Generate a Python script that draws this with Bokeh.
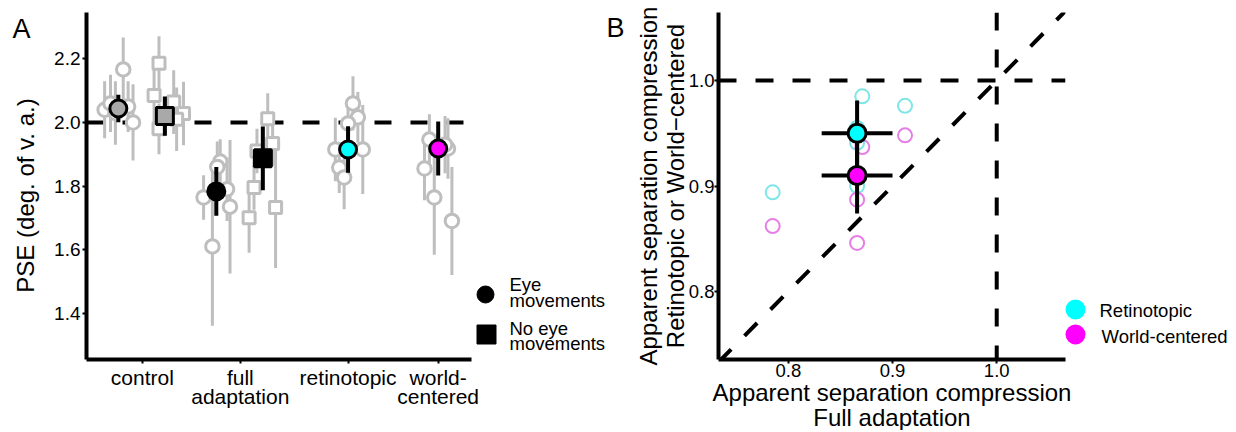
import math
from bokeh.plotting import figure
from bokeh.layouts import row
from bokeh.models import Range1d, FixedTicker, PrintfTickFormatter, Span
from bokeh.embed import file_html
from bokeh.resources import INLINE
from bokeh.core.properties import value

FONT = "Liberation Sans"

# ---------------- Panel A data ----------------
categories = ["control", "full\nadaptation", "retinotopic", "world-\ncentered"]
category_x = [1.0, 2.0, 3.1, 4.02]
pse_ticks = [1.4, 1.6, 1.8, 2.0, 2.2]
reference_pse = 2.0
ylabel_a = "PSE (deg. of v. a.)"

# group means (control, full adaptation)
eye_mean = [2.044, 1.783]
eye_se = [0.043, 0.077]
noeye_mean = [2.020, 1.887]
noeye_se = [0.062, 0.100]
ret_mean = 1.915
ret_se = 0.073
world_mean = 1.918
world_se = 0.085

# individual observers: PSE, SE, horizontal jitter (category units)
ctrl_eye_pse = [2.167, 2.040, 2.000, 2.060, 2.050, 2.030]
ctrl_eye_se = [0.10, 0.09, 0.12, 0.09, 0.08, 0.10]
ctrl_eye_jit = [0.05, -0.14, 0.15, -0.08, 0.10, -0.03]

ctrl_noeye_pse = [2.186, 2.085, 2.064, 2.028, 1.980, 2.010]
ctrl_noeye_se = [0.085, 0.10, 0.10, 0.10, 0.08, 0.10]
ctrl_noeye_jit = [-0.06, -0.11, 0.09, 0.19, -0.06, 0.12]

full_eye_pse = [1.610, 1.735, 1.764, 1.877, 1.860, 1.790]
full_eye_se = [0.25, 0.21, 0.07, 0.07, 0.08, 0.10]
full_eye_jit = [-0.04, 0.14, -0.13, 0.04, 0.01, 0.11]

full_noeye_pse = [2.012, 1.934, 1.910, 1.795, 1.700, 1.732]
full_noeye_se = [0.08, 0.07, 0.07, 0.07, 0.11, 0.19]
full_noeye_jit = [0.05, 0.10, -0.06, -0.09, -0.14, 0.13]

ret_pse = [2.060, 2.016, 1.997, 1.915, 1.915, 1.858, 1.827]
ret_ind_se = [0.085, 0.08, 0.07, 0.10, 0.14, 0.08, 0.10]
ret_jit = [0.05, 0.10, 0.0, -0.13, 0.15, -0.09, -0.04]

world_pse = [1.946, 1.855, 1.764, 1.690, 1.918, 1.930]
world_ind_se = [0.08, 0.10, 0.18, 0.17, 0.095, 0.09]
world_jit = [-0.09, -0.14, -0.04, 0.14, 0.10, 0.07]

legend_a_lines = [["Eye", "movements"], ["No eye", "movements"]]

# ---------------- Panel B data ----------------
comp_ticks = [0.8, 0.9, 1.0]
full_comp = [0.785, 0.912, 0.871, 0.866, 0.866, 0.866]
ret_comp = [0.894, 0.976, 0.985, 0.955, 0.941, 0.900]
world_comp = [0.862, 0.948, 0.937, 0.910, 0.887, 0.846]
mean_full_comp, mean_full_comp_se = 0.866, 0.034
mean_ret_comp, mean_ret_comp_se = 0.950, 0.031
mean_world_comp, mean_world_comp_se = 0.910, 0.036
legend_b_labels = ["Retinotopic", "World-centered"]
xlabel_b = ["Apparent separation compression", "Full adaptation"]
ylabel_b = ["Apparent separation compression", "Retinotopic or World\u2212centered"]

# ---------------- styles ----------------
GRAY = "#BEBEBE"
CTRL_FILL = "#A9A9A9"
CYAN = "#00FFFF"
MAGENTA = "#FF00FF"
LIGHT_CYAN = "#7EE6E6"
LIGHT_MAGENTA = "#E67EE6"
EYE_DX = -0.245
NOEYE_DX = 0.23
H = 430


def style_axes(p, xsize, ysize):
    for ax in list(p.xaxis) + list(p.yaxis):
        ax.axis_line_width = 4
        ax.axis_line_color = "black"
        ax.major_tick_line_width = 2
        ax.major_tick_line_color = "black"
        ax.major_tick_out = 4
        ax.major_tick_in = 0
        ax.minor_tick_out = 0
        ax.minor_tick_in = 0
        ax.major_label_standoff = 2
        ax.major_label_text_color = "black"
        ax.major_label_text_font = FONT
    for ax in p.xaxis:
        ax.major_label_text_font_size = xsize
    for ax in p.yaxis:
        ax.major_label_text_font_size = ysize
    p.grid.visible = False
    p.outline_line_color = None
    p.background_fill_color = "white"


def individuals(p, center, jit, pse, se, marker, size):
    xs = [center + j for j in jit]
    p.segment(x0=xs, y0=[v - s for v, s in zip(pse, se)], x1=xs,
              y1=[v + s for v, s in zip(pse, se)], line_color=GRAY, line_width=3)
    p.scatter(x=xs, y=pse, marker=marker, size=size, fill_color="white",
              line_color=GRAY, line_width=3)


def mean_point(p, x, y, se, marker, fill):
    p.segment(x0=[x], y0=[y - se], x1=[x], y1=[y + se], line_color="black", line_width=4)
    p.scatter(x=[x], y=[y], marker=marker, size=17, fill_color=fill,
              line_color="black", line_width=3)


def txt(p, x, y, t, size, align="left", angle=0.0, xr="px", baseline_pos=True):
    """Texts placed in pixel coordinates; y is the baseline (converted to middle)."""
    if baseline_pos:
        y = [v - 0.35 * size for v in y]
    kw = dict(x=x, y=y, text=t, text_font=value(FONT), text_font_size=f"{size}px",
              text_align=align, text_baseline="middle", angle=angle,
              text_color="black", y_range_name="px", level="overlay")
    if xr:
        kw["x_range_name"] = xr
    p.text(**kw)


# ---------------- Panel A ----------------
pA = figure(width=606, height=H, x_range=Range1d(0.43, 4.36), y_range=Range1d(1.254, 2.346),
            output_backend="svg", toolbar_location=None,
            min_border_left=86, min_border_right=135, min_border_top=12, min_border_bottom=H - 359)
pA.extra_x_ranges = {"px": Range1d(86, 471)}
pA.extra_y_ranges = {"px": Range1d(359, 12)}

pA.add_layout(Span(location=reference_pse, dimension="width", line_color="black",
                   line_width=4, line_dash="17 19", level="underlay"))

individuals(pA, category_x[0] + EYE_DX, ctrl_eye_jit, ctrl_eye_pse, ctrl_eye_se, "circle", 13.5)
individuals(pA, category_x[0] + NOEYE_DX, ctrl_noeye_jit, ctrl_noeye_pse, ctrl_noeye_se, "square", 12)
individuals(pA, category_x[1] + EYE_DX, full_eye_jit, full_eye_pse, full_eye_se, "circle", 13.5)
individuals(pA, category_x[1] + NOEYE_DX, full_noeye_jit, full_noeye_pse, full_noeye_se, "square", 12)
individuals(pA, category_x[2], ret_jit, ret_pse, ret_ind_se, "circle", 13.5)
individuals(pA, category_x[3], world_jit, world_pse, world_ind_se, "circle", 13.5)

mean_point(pA, category_x[0] + EYE_DX, eye_mean[0], eye_se[0], "circle", CTRL_FILL)
mean_point(pA, category_x[0] + NOEYE_DX, noeye_mean[0], noeye_se[0], "square", CTRL_FILL)
mean_point(pA, category_x[1] + EYE_DX, eye_mean[1], eye_se[1], "circle", "black")
mean_point(pA, category_x[1] + NOEYE_DX, noeye_mean[1], noeye_se[1], "square", "black")
mean_point(pA, category_x[2], ret_mean, ret_se, "circle", CYAN)
mean_point(pA, category_x[3], world_mean, world_se, "circle", MAGENTA)

pA.yaxis.ticker = FixedTicker(ticks=pse_ticks)
pA.yaxis.formatter = PrintfTickFormatter(format="%.1f")
pA.xaxis.ticker = FixedTicker(ticks=category_x)
pA.xaxis.major_label_overrides = {x: "" for x in category_x}
style_axes(pA, "21px", "19px")

# y title of panel A
txt(pA, [25], [195], [ylabel_a], 24, align="center", angle=math.pi / 2, baseline_pos=False)

# category labels (below the x axis), one text per line
cat_x, cat_y, cat_t = [], [], []
for cx, c in zip(category_x, categories):
    for i, line in enumerate(c.split("\n")):
        cat_x.append(cx)
        cat_y.append(384 + 19 * i)
        cat_t.append(line)
txt(pA, cat_x, cat_y, cat_t, 21, align="center", xr=None)

# legend A
pA.scatter(x=[485], y=[294], marker="circle", size=17, fill_color="black", line_color="black",
           x_range_name="px", y_range_name="px", level="overlay")
pA.scatter(x=[486], y=[334], marker="square", size=19, fill_color="black", line_color="black",
           x_range_name="px", y_range_name="px", level="overlay")
txt(pA, [509, 509, 509, 509], [290, 306, 334, 349],
    [legend_a_lines[0][0], legend_a_lines[0][1], legend_a_lines[1][0], legend_a_lines[1][1]],
    18.5)
txt(pA, [12], [38], ["A"], 27)

# ---------------- Panel B ----------------
xlo, xhi = 0.733, 1.066
ylo, yhi = 0.7355, 1.0645
pB = figure(width=624, height=H, x_range=Range1d(xlo, xhi), y_range=Range1d(ylo, yhi),
            output_backend="svg", toolbar_location=None,
            min_border_left=112, min_border_right=165, min_border_top=12, min_border_bottom=H - 359)
pB.extra_x_ranges = {"px": Range1d(718, 1065)}
pB.extra_y_ranges = {"px": Range1d(359, 12)}

pB.add_layout(Span(location=1.0, dimension="width", line_color="black", line_width=4,
                   line_dash="18 19", level="underlay"))
pB.add_layout(Span(location=1.0, dimension="height", line_color="black", line_width=4,
                   line_dash="18 19", level="underlay"))
pB.line(x=[xlo, xhi], y=[xlo, xhi], line_color="black", line_width=4, line_dash="18 19")

pB.scatter(x=full_comp, y=ret_comp, marker="circle", size=14, fill_color=None,
           line_color=LIGHT_CYAN, line_width=2)
pB.scatter(x=full_comp, y=world_comp, marker="circle", size=14, fill_color=None,
           line_color=LIGHT_MAGENTA, line_width=2)

for my, mys in [(mean_ret_comp, mean_ret_comp_se), (mean_world_comp, mean_world_comp_se)]:
    pB.segment(x0=[mean_full_comp - mean_full_comp_se], y0=[my],
               x1=[mean_full_comp + mean_full_comp_se], y1=[my], line_color="black", line_width=4)
    pB.segment(x0=[mean_full_comp], y0=[my - mys], x1=[mean_full_comp], y1=[my + mys],
               line_color="black", line_width=4)
for my, col in [(mean_ret_comp, CYAN), (mean_world_comp, MAGENTA)]:
    pB.scatter(x=[mean_full_comp], y=[my], marker="circle", size=18, fill_color=col,
               line_color="black", line_width=3)

pB.xaxis.ticker = FixedTicker(ticks=comp_ticks)
pB.yaxis.ticker = FixedTicker(ticks=comp_ticks)
pB.xaxis.formatter = PrintfTickFormatter(format="%.1f")
pB.yaxis.formatter = PrintfTickFormatter(format="%.1f")
style_axes(pB, "18.5px", "18.5px")
pB.xaxis.major_label_standoff = 0
pB.yaxis.major_label_standoff = 0

# axis titles of panel B
mid_x = (718 + 1065) / 2
mid_y = (12 + 359) / 2
txt(pB, [mid_x, mid_x], [400, 425], xlabel_b, 24, align="center")
txt(pB, [648, 675], [mid_y, mid_y], ylabel_b, 24, align="center", angle=math.pi / 2,
    baseline_pos=False)

# legend B
pB.scatter(x=[1075, 1075], y=[309, 334], marker="circle", size=20,
           fill_color=[CYAN, MAGENTA], line_color=None,
           x_range_name="px", y_range_name="px", level="overlay")
txt(pB, [1099, 1101], [316, 342], legend_b_labels, 18.5)
txt(pB, [606], [37], ["B"], 27)

layout = row(pA, pB)
open("out.html", "w").write(file_html(layout, INLINE))
